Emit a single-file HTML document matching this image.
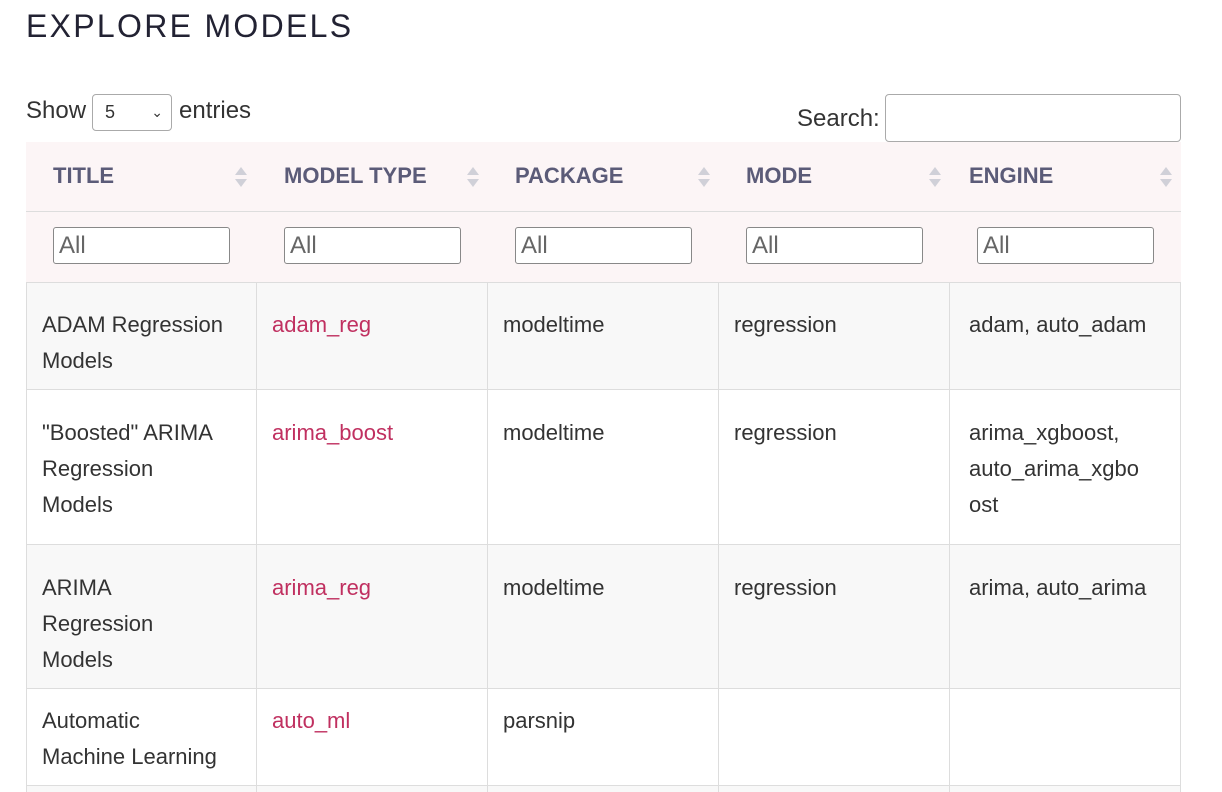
<!DOCTYPE html>
<html><head><meta charset="utf-8"><style>
body{margin:0;width:1222px;height:792px;overflow:hidden;background:#fff;font-family:"Liberation Sans",sans-serif;color:#333;position:relative}
.a{position:absolute}
h1{position:absolute;left:26px;top:8px;margin:0;font-weight:400;font-size:32px;letter-spacing:2.3px;color:#222233}
.t{position:absolute;font-size:22px;line-height:36px;color:#333}
.l{color:#c03060}
.th{position:absolute;top:161px;font-size:22px;font-weight:bold;color:#5b5b78;line-height:30px}
.inp{position:absolute;top:227px;width:175px;height:37px;border:1px solid #888;border-radius:3px;background:#fff;box-sizing:border-box;font-size:24px;color:#666;padding-left:5px;line-height:35px}
.vl{position:absolute;width:1px;background:#ddd}
.hl{position:absolute;left:26px;width:1155px;height:1px;background:#ddd}
</style></head><body>
<h1>EXPLORE MODELS</h1>
<div class="t" style="left:26px;top:93px;font-size:24px">Show</div>
<div class="a" style="left:92px;top:94px;width:80px;height:37px;border:1px solid #aaa;border-radius:4px;box-sizing:border-box;font-size:18px;line-height:35px;padding-left:12px">5<span style="position:absolute;right:8px;top:0;font-size:14px">&#8964;</span></div>
<div class="t" style="left:179px;top:93px;font-size:24px">entries</div>
<div class="t" style="left:797px;top:101px;font-size:24px">Search:</div>
<div class="a" style="left:885px;top:94px;width:296px;height:48px;border:1px solid #aaa;border-radius:4px;box-sizing:border-box"></div>
<div class="a" style="left:26px;top:142px;width:1155px;height:140px;background:#fcf5f6"></div>
<div class="hl" style="top:211px"></div>
<div class="a" style="left:26px;top:282px;width:1155px;height:108px;background:#f8f8f8"></div>
<div class="a" style="left:26px;top:545px;width:1155px;height:144px;background:#f8f8f8"></div>
<div class="a" style="left:26px;top:786px;width:1155px;height:6px;background:#f8f8f8"></div>
<div class="hl" style="top:282px"></div>
<div class="hl" style="top:389px"></div>
<div class="hl" style="top:544px"></div>
<div class="hl" style="top:688px"></div>
<div class="hl" style="top:785px"></div>
<div class="vl" style="left:26px;top:282px;height:510px"></div>
<div class="vl" style="left:256px;top:282px;height:510px"></div>
<div class="vl" style="left:487px;top:282px;height:510px"></div>
<div class="vl" style="left:718px;top:282px;height:510px"></div>
<div class="vl" style="left:949px;top:282px;height:510px"></div>
<div class="vl" style="left:1180px;top:282px;height:510px"></div>

<div class="th" style="left:53px">TITLE</div>
<div class="th" style="left:284px">MODEL TYPE</div>
<div class="th" style="left:515px">PACKAGE</div>
<div class="th" style="left:746px">MODE</div>
<div class="th" style="left:969px">ENGINE</div>
<svg class="a" style="left:0;top:0" width="1222" height="200">
<g fill="#d0d0d8">
<path d="M241 167l6 8h-12zM241 187l6-8h-12z"/>
<path d="M473 167l6 8h-12zM473 187l6-8h-12z"/>
<path d="M704 167l6 8h-12zM704 187l6-8h-12z"/>
<path d="M935 167l6 8h-12zM935 187l6-8h-12z"/>
<path d="M1166 167l6 8h-12zM1166 187l6-8h-12z"/>
</g></svg>
<div class="inp" style="left:53px;width:177px">All</div>
<div class="inp" style="left:284px;width:177px">All</div>
<div class="inp" style="left:515px;width:177px">All</div>
<div class="inp" style="left:746px;width:177px">All</div>
<div class="inp" style="left:977px;width:177px">All</div>

<div class="t" style="left:42px;top:307px">ADAM Regression<br>Models</div>
<div class="t l" style="left:272px;top:307px">adam_reg</div>
<div class="t" style="left:503px;top:307px">modeltime</div>
<div class="t" style="left:734px;top:307px">regression</div>
<div class="t" style="left:969px;top:307px">adam, auto_adam</div>

<div class="t" style="left:42px;top:415px">"Boosted" ARIMA<br>Regression<br>Models</div>
<div class="t l" style="left:272px;top:415px">arima_boost</div>
<div class="t" style="left:503px;top:415px">modeltime</div>
<div class="t" style="left:734px;top:415px">regression</div>
<div class="t" style="left:969px;top:415px">arima_xgboost,<br>auto_arima_xgbo<br>ost</div>

<div class="t" style="left:42px;top:570px">ARIMA<br>Regression<br>Models</div>
<div class="t l" style="left:272px;top:570px">arima_reg</div>
<div class="t" style="left:503px;top:570px">modeltime</div>
<div class="t" style="left:734px;top:570px">regression</div>
<div class="t" style="left:969px;top:570px">arima, auto_arima</div>

<div class="t" style="left:42px;top:703px">Automatic<br>Machine Learning</div>
<div class="t l" style="left:272px;top:703px">auto_ml</div>
<div class="t" style="left:503px;top:703px">parsnip</div>
</body></html>
